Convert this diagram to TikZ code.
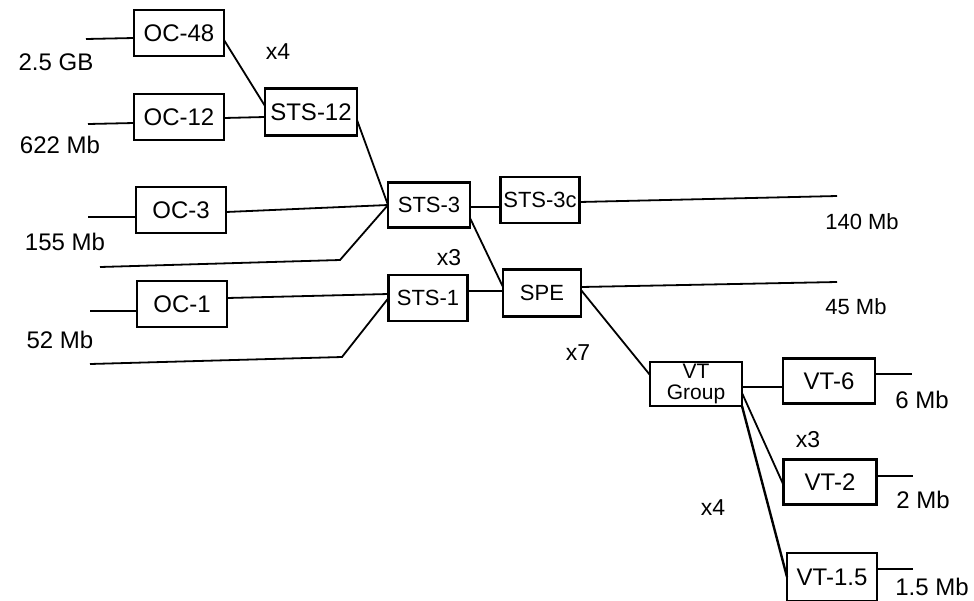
\documentclass[tikz,border=0pt]{standalone}
\usepackage{fontspec}
\setmainfont{Liberation Sans}

\begin{document}
\begin{tikzpicture}[x=1pt,y=-1pt,
  unit/.style={draw=black, line width=2.4pt, inner sep=0pt, outer sep=0pt,
    minimum width=90, minimum height=46, font=\fontsize{24}{22}\selectfont},
  core/.style={unit, font=\fontsize{22}{22}\selectfont},
  rate/.style={inner sep=0pt, font=\fontsize{24}{24}\selectfont},
  mult/.style={inner sep=0pt, font=\fontsize{23}{23}\selectfont},
  link/.style={line width=1.8pt}]
\useasboundingbox (0,0) rectangle (974,600);

\node[unit] (oc48) at (179,33) {OC-48};
\node[unit] (oc12) at (179,117) {OC-12};
\node[unit] (oc3) at (181,210) {OC-3};
\node[unit] (oc1) at (182,304) {OC-1};
\node[unit, minimum width=92, minimum height=47] (sts12) at (311,112) {STS-12};
\node[core, minimum width=82, minimum height=45] (sts3) at (429,205) {STS-3};
\node[core, minimum width=79, minimum height=46] (sts3c) at (540,200) {STS-3c};
\node[core, minimum width=79, minimum height=46] (sts1) at (428,298) {STS-1};
\node[core, minimum width=78, minimum height=47] (spe) at (542,293) {SPE};
\node[unit, minimum width=92, minimum height=44, align=center,
  font=\fontsize{21}{21}\selectfont] (vtg) at (696,384) {VT\\Group};
\node[unit, minimum width=92, minimum height=45] (vt6) at (829,381) {VT-6};
\node[unit, minimum width=93, minimum height=45] (vt2) at (830,482) {VT-2};
\node[unit, minimum width=90, minimum height=48] (vt15) at (832,577) {VT-1.5};

\node[rate] (r48) at (56,62) {2.5 GB};
\node[rate] (r12) at (60,145) {622 Mb};
\node[rate] (r3) at (65,242) {155 Mb};
\node[rate] (r1) at (60,340) {52 Mb};
\node[rate, font=\fontsize{22}{22}\selectfont] (r3c) at (862,222) {140 Mb};
\node[rate, font=\fontsize{22}{22}\selectfont] (rspe) at (856,307) {45 Mb};
\node[rate] (r6) at (922,400) {6 Mb};
\node[rate] (r2) at (923,500) {2 Mb};
\node[rate] (r15) at (932,587) {1.5 Mb};

\node[mult] (m12) at (278,52) {x4};
\node[mult] (m3) at (449,258) {x3};
\node[mult] (m7) at (578,353) {x7};
\node[mult] (m2) at (808,440) {x3};
\node[mult] (m15) at (713,508) {x4};

% free line ends
\coordinate (in48) at (86,39);
\coordinate (in12) at (88,124);
\coordinate (in3) at (88,217);
\coordinate (in1) at (90,311);
\coordinate (lo3) at (100,267);
\coordinate (kn3) at (340,260);
\coordinate (lo1) at (90,364);
\coordinate (kn1) at (342,357);
\coordinate (out3c) at (837,196);
\coordinate (outspe) at (837,282);
\coordinate (out6) at (912,374);
\coordinate (out2) at (913,476);
\coordinate (out15) at (913,569);

\draw[link] (in48) -- ([yshift=-5]oc48.west);
\draw[link] (in12) -- ([yshift=-6]oc12.west);
\draw[link] (in3) -- ([yshift=-7]oc3.west);
\draw[link] (in1) -- ([yshift=-7]oc1.west);

\draw[link] ([yshift=-7]oc48.east) -- ([yshift=6]sts12.west);
\draw[link] ([yshift=-1]oc12.east) -- ([yshift=-5]sts12.west);
\draw[link] ([yshift=-8]sts12.east) -- (sts3.west);
\draw[link] ([yshift=-2]oc3.east) -- (sts3.west);
\draw[link] (lo3) -- (kn3) -- (sts3.west);
\draw[link] ([yshift=6]oc1.east) -- ([yshift=4]sts1.west);
\draw[link] (lo1) -- (kn1) -- (sts1.west);

\draw[link] ([yshift=-2]sts3.east) -- ([yshift=-7]sts3c.west);
\draw[link] ([yshift=-13]sts3.east) -- ([yshift=6]spe.west);
\draw[link] ([yshift=7]sts1.east) -- ([yshift=2]spe.west);

\draw[link] ([yshift=-2]sts3c.east) -- (out3c);
\draw[link] ([yshift=6]spe.east) -- (outspe);
\draw[link] ([yshift=3]spe.east) -- ([yshift=9]vtg.west);

\draw[link] ([yshift=-3]vtg.east) -- ([yshift=-6]vt6.west);
\draw[link] ([yshift=-9]vtg.east) -- ([yshift=-3]vt2.west);
\draw[link, line width=2.4pt] (vtg.south east) -- (vt15.west);

\draw[link] ([yshift=7]vt6.east) -- (out6);
\draw[link] ([yshift=6]vt2.east) -- (out2);
\draw[link] ([yshift=8]vt15.east) -- (out15);
\end{tikzpicture}
\end{document}
